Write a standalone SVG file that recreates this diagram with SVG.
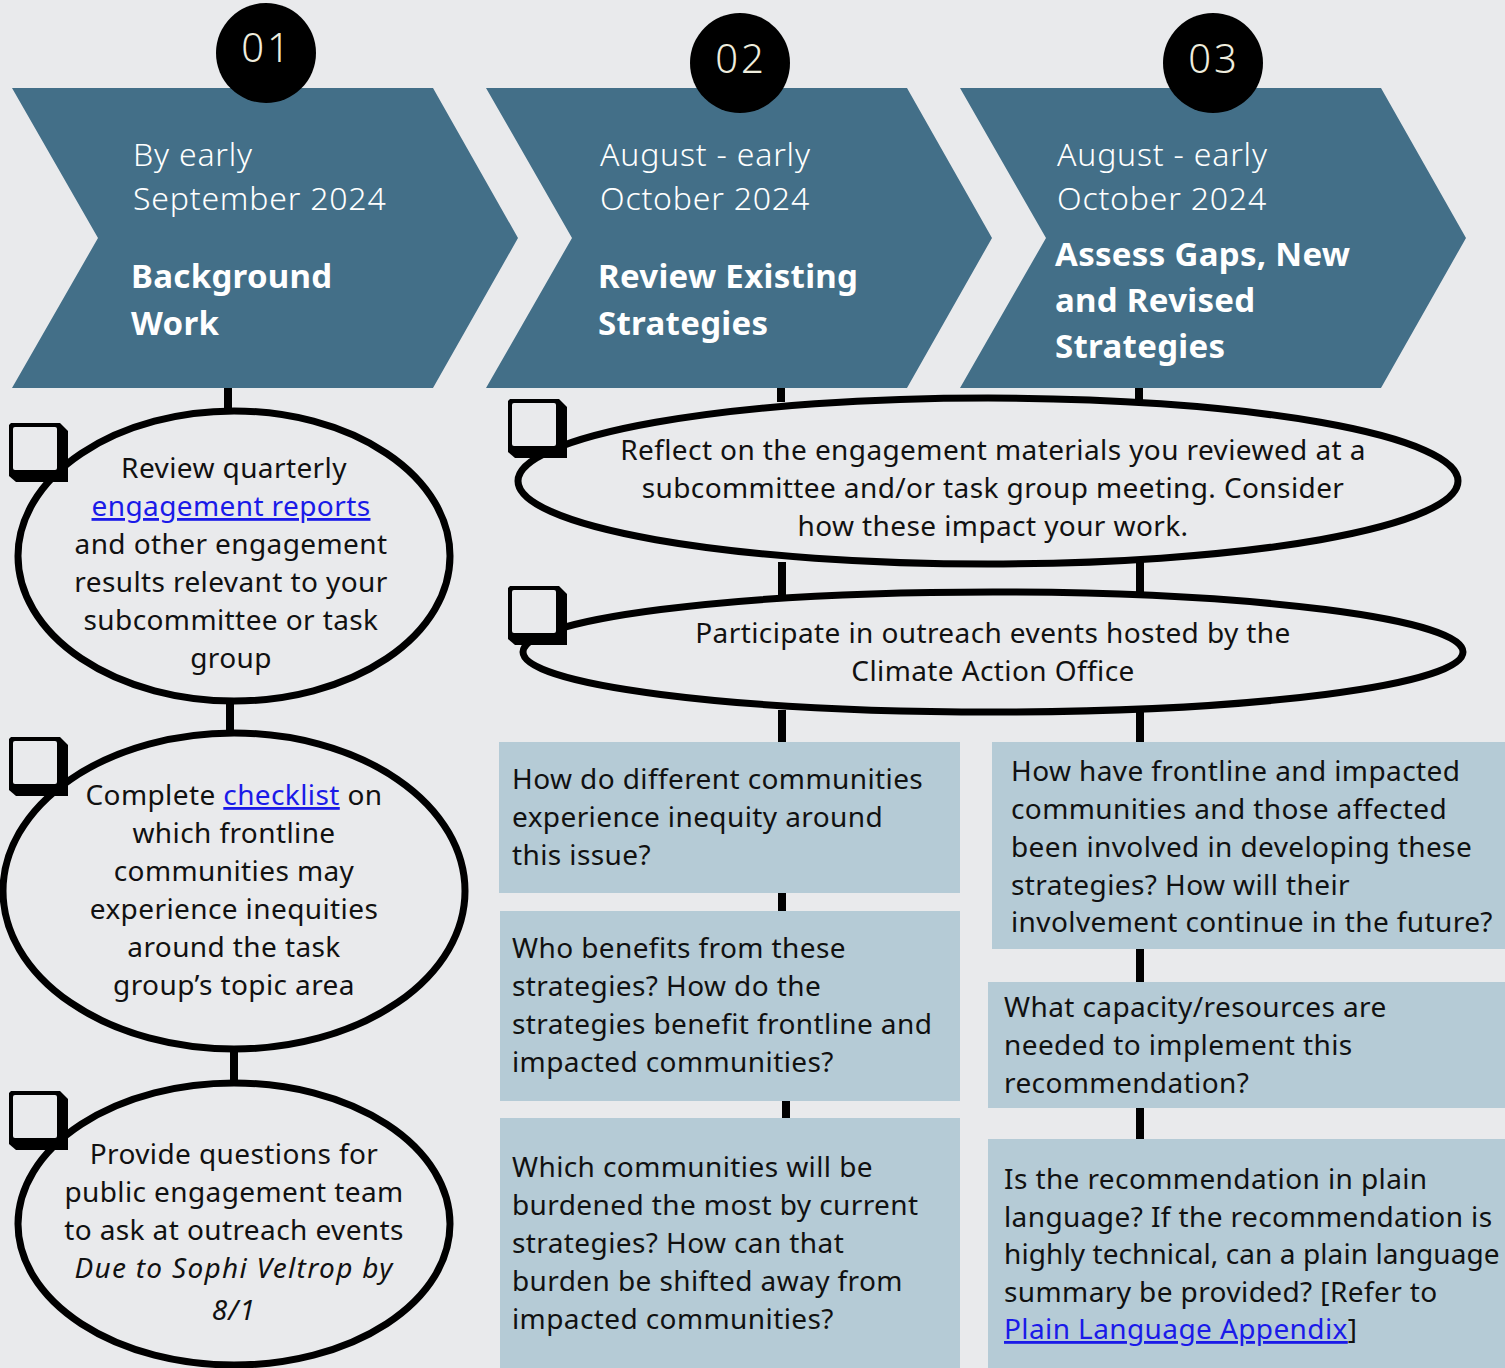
<svg xmlns="http://www.w3.org/2000/svg" width="1505" height="1368" viewBox="0 0 1505 1368">
<style>
.chev{fill:#436f88}
.badge{fill:#000}
.num{font-family:"Noto Sans",sans-serif;font-size:40px;font-weight:300;letter-spacing:3px;fill:#efedde;text-anchor:middle}
.date{font-family:"Noto Sans",sans-serif;font-size:32px;font-weight:300;letter-spacing:0.8px;fill:#ffffff}
.title{font-family:"Noto Sans",sans-serif;font-size:33px;font-weight:700;letter-spacing:0.3px;fill:#ffffff}
.ell{fill:#e9eaec;stroke:#000;stroke-width:7}
.t{font-family:"Noto Sans",sans-serif;font-size:28px;letter-spacing:0.4px;fill:#111}
.c{text-anchor:middle}
.i{font-style:italic;letter-spacing:1.3px}
.box{fill:#b5cbd6}
.link{fill:#1a1ae8;text-decoration:underline}
.conn line{stroke:#000;stroke-width:8}
</style>
<defs>
<g id="cb">
<polygon points="2,0 51,0 59,8 59,59 7,59 0,53 0,2" fill="#000"/>
<rect x="4" y="4" width="44" height="43" rx="2" fill="#e9eaec"/>
</g>
</defs>
<rect x="0" y="0" width="1505" height="1368" fill="#e9eaec"/>

<g id="connectors" class="conn">
<line x1="228" y1="386" x2="228" y2="414"/>
<line x1="230" y1="700" x2="230" y2="734"/>
<line x1="234" y1="1048" x2="234" y2="1084"/>
<line x1="781" y1="386" x2="781" y2="402"/>
<line x1="782" y1="562" x2="782" y2="596"/>
<line x1="782" y1="710" x2="782" y2="744"/>
<line x1="782" y1="891" x2="782" y2="913"/>
<line x1="786" y1="1099" x2="786" y2="1120"/>
<line x1="1139" y1="386" x2="1139" y2="400"/>
<line x1="1140" y1="562" x2="1140" y2="596"/>
<line x1="1140" y1="710" x2="1140" y2="744"/>
<line x1="1140" y1="947" x2="1140" y2="984"/>
<line x1="1140" y1="1106" x2="1140" y2="1141"/>
</g>

<g id="step1">
<polygon class="chev" points="12,88 433,88 518,238 433,388 12,388 98,238"/>
<circle class="badge" cx="266" cy="53" r="50"/>
<text class="num" x="267" y="62">01</text>
<text class="date" x="133" y="166">By early</text>
<text class="date" x="133" y="210">September 2024</text>
<text class="title" x="131" y="288">Background</text>
<text class="title" x="131" y="335">Work</text>
</g>

<g id="step2">
<polygon class="chev" points="486,88 907,88 992,238 907,388 486,388 572,238"/>
<circle class="badge" cx="740" cy="63" r="50"/>
<text class="num" x="741" y="73">02</text>
<text class="date" x="600" y="166">August - early</text>
<text class="date" x="600" y="210">October 2024</text>
<text class="title" x="598" y="288">Review Existing</text>
<text class="title" x="598" y="335">Strategies</text>
</g>

<g id="step3">
<polygon class="chev" points="960,88 1381,88 1466,238 1381,388 960,388 1046,238"/>
<circle class="badge" cx="1213" cy="63" r="50"/>
<text class="num" x="1214" y="73">03</text>
<text class="date" x="1057" y="166">August - early</text>
<text class="date" x="1057" y="210">October 2024</text>
<text class="title" x="1055" y="266">Assess Gaps, New</text>
<text class="title" x="1055" y="312">and Revised</text>
<text class="title" x="1055" y="358">Strategies</text>
</g>

<g id="review-reports">
<ellipse class="ell" cx="234" cy="556" rx="216" ry="145"/>
<use href="#cb" x="9" y="423"/>
<text class="t c" x="234" y="478">Review quarterly</text>
<text class="t c" x="231" y="516"><tspan class="link">engagement reports</tspan></text>
<text class="t c" x="231" y="554">and other engagement</text>
<text class="t c" x="231" y="592">results relevant to your</text>
<text class="t c" x="231" y="630">subcommittee or task</text>
<text class="t c" x="231" y="668">group</text>
</g>

<g id="checklist">
<ellipse class="ell" cx="234" cy="891" rx="231" ry="158"/>
<use href="#cb" x="9" y="737"/>
<text class="t c" x="234" y="805">Complete <tspan class="link">checklist</tspan> on</text>
<text class="t c" x="234" y="843">which frontline</text>
<text class="t c" x="234" y="881">communities may</text>
<text class="t c" x="234" y="919">experience inequities</text>
<text class="t c" x="234" y="957">around the task</text>
<text class="t c" x="234" y="995">group’s topic area</text>
</g>

<g id="provide-questions">
<ellipse class="ell" cx="234" cy="1224" rx="216" ry="141"/>
<use href="#cb" x="9" y="1091"/>
<text class="t c" x="234" y="1164">Provide questions for</text>
<text class="t c" x="234" y="1202">public engagement team</text>
<text class="t c" x="234" y="1240">to ask at outreach events</text>
<text class="t c i" x="234" y="1278">Due to Sophi Veltrop by</text>
<text class="t c i" x="234" y="1320">8/1</text>
</g>

<g id="reflect">
<ellipse class="ell" cx="988" cy="481" rx="470" ry="83"/>
<use href="#cb" x="508" y="399"/>
<text class="t c" x="993" y="460">Reflect on the engagement materials you reviewed at a</text>
<text class="t c" x="993" y="498">subcommittee and/or task group meeting. Consider</text>
<text class="t c" x="993" y="536">how these impact your work.</text>
</g>

<g id="participate">
<ellipse class="ell" cx="993" cy="652" rx="470" ry="60"/>
<use href="#cb" x="508" y="586"/>
<text class="t c" x="993" y="643">Participate in outreach events hosted by the</text>
<text class="t c" x="993" y="681">Climate Action Office</text>
</g>

<g id="q-inequity">
<rect class="box" x="499" y="742" width="461" height="151"/>
<text class="t" x="512" y="789">How do different communities</text>
<text class="t" x="512" y="827">experience inequity around</text>
<text class="t" x="512" y="865">this issue?</text>
</g>

<g id="q-benefits">
<rect class="box" x="500" y="911" width="460" height="190"/>
<text class="t" x="512" y="958">Who benefits from these</text>
<text class="t" x="512" y="996">strategies? How do the</text>
<text class="t" x="512" y="1034">strategies benefit frontline and</text>
<text class="t" x="512" y="1072">impacted communities?</text>
</g>

<g id="q-burdened">
<rect class="box" x="500" y="1118" width="460" height="250"/>
<text class="t" x="512" y="1177">Which communities will be</text>
<text class="t" x="512" y="1215">burdened the most by current</text>
<text class="t" x="512" y="1253">strategies? How can that</text>
<text class="t" x="512" y="1291">burden be shifted away from</text>
<text class="t" x="512" y="1329">impacted communities?</text>
</g>

<g id="q-involved">
<rect class="box" x="992" y="742" width="513" height="207"/>
<text class="t" x="1011" y="781">How have frontline and impacted</text>
<text class="t" x="1011" y="819">communities and those affected</text>
<text class="t" x="1011" y="857">been involved in developing these</text>
<text class="t" x="1011" y="895">strategies? How will their</text>
<text class="t" x="1011" y="932">involvement continue in the future?</text>
</g>

<g id="q-capacity">
<rect class="box" x="988" y="982" width="517" height="126"/>
<text class="t" x="1004" y="1017">What capacity/resources are</text>
<text class="t" x="1004" y="1055">needed to implement this</text>
<text class="t" x="1004" y="1093">recommendation?</text>
</g>

<g id="q-plain">
<rect class="box" x="988" y="1139" width="517" height="229"/>
<text class="t" x="1004" y="1189">Is the recommendation in plain</text>
<text class="t" x="1004" y="1227">language? If the recommendation is</text>
<text class="t" x="1004" y="1264" textLength="496" lengthAdjust="spacing">highly technical, can a plain language</text>
<text class="t" x="1004" y="1302">summary be provided? [Refer to</text>
<text class="t" x="1004" y="1339"><tspan class="link">Plain Language Appendix</tspan>]</text>
</g>
</svg>
